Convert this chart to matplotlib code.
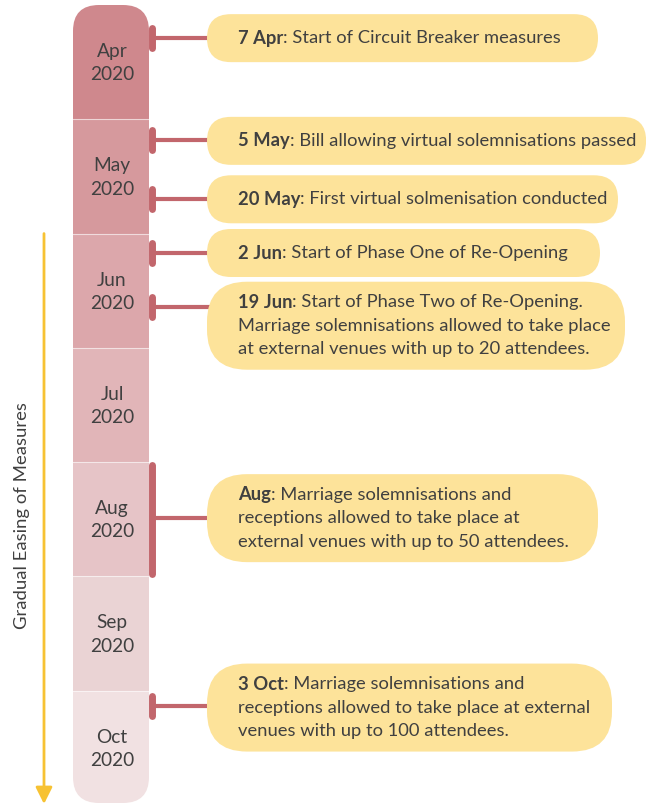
import matplotlib
matplotlib.use("Agg")
import matplotlib.pyplot as plt
from matplotlib.patches import FancyBboxPatch, Rectangle

# ======= Data =======
months = ["Apr", "May", "Jun", "Jul", "Aug", "Sep", "Oct"]
year = "2020"
month_colors = ["#cf888d", "#d6999d", "#dca7ab", "#e1b5b8", "#e6c4c7", "#ead3d4", "#f1e1e2"]

# position of each event on the timeline, in months from start of Apr
event_pos = [0.29, 1.18, 1.70, 2.17, 2.64, 4.49, 6.13]
event_bold = ["7 Apr", "5 May", "20 May", "2 Jun", "19 Jun", "Aug", "3 Oct"]
event_lines = [
    [": Start of Circuit Breaker measures"],
    [": Bill allowing virtual solemnisations passed"],
    [": First virtual solmenisation conducted"],
    [": Start of Phase One of Re-Opening"],
    [": Start of Phase Two of Re-Opening.",
     "Marriage solemnisations allowed to take place",
     "at external venues with up to 20 attendees."],
    [": Marriage solemnisations and",
     "receptions allowed to take place at",
     "external venues with up to 50 attendees."],
    [": Marriage solemnisations and",
     "receptions allowed to take place at external",
     "venues with up to 100 attendees."],
]
# Aug is a whole-month event (drawn as a bracket over the cell)
event_span = [None, None, None, None, None, (4.0, 5.0), None]

# ======= Layout =======
W, H = 646, 805
top, bottom = 5, 803
cell_h = (805 - 5) / len(months)
col_x0, col_x1 = 73, 149
tick_x = 152
box_x0 = 207
text_x = 238
line_gap = 23.5
box_right = [598, 641, 618, 600, 625, 598, 612]
box_shift = [0, 1, 0, 0, 19, 0, 2]

TEXT = "#404040"
CONN = "#c2666c"
BOX = "#fde39a"
ARROW = "#f7c233"
FONT = ["Lato", "DejaVu Sans"]
FS = 13.2


def month_y(m):
    return top + m * cell_h


fig = plt.figure(figsize=(W / 100, H / 100), dpi=100)
ax = fig.add_axes([0, 0, 1, 1])
ax.set_xlim(0, W)
ax.set_ylim(H, 0)
ax.axis("off")

# timeline column with rounded ends
clip = FancyBboxPatch((col_x0, top), col_x1 - col_x0, bottom - top,
                      boxstyle="round,pad=0,rounding_size=26",
                      facecolor="none", edgecolor="none")
ax.add_patch(clip)
for i, (m, c) in enumerate(zip(months, month_colors)):
    y0 = month_y(i)
    r = Rectangle((col_x0, y0), col_x1 - col_x0, cell_h, facecolor=c,
                  edgecolor="none", zorder=1)
    ax.add_patch(r)
    r.set_clip_path(clip)
    if i > 0:
        ax.plot([col_x0, col_x1], [y0, y0], color="white", lw=0.8, alpha=0.6, zorder=2)
    ax.text((col_x0 + col_x1) / 2 + 1, y0 + cell_h / 2 + 1, f"{m}\n{year}",
            ha="center", va="center", fontsize=13.8, color=TEXT,
            family=FONT, linespacing=1.45, zorder=3)

# gradual easing arrow
ax.annotate("", xy=(44, 804), xytext=(44, month_y(2)),
            arrowprops=dict(arrowstyle="-|>,head_length=1.0,head_width=0.5",
                            color=ARROW, lw=2, shrinkA=0, shrinkB=0))
ax.text(22, 516, "Gradual Easing of Measures", rotation=90, ha="center",
        va="center", fontsize=13.3, color=TEXT, family=FONT)

fig.canvas.draw()
renderer = fig.canvas.get_renderer()
inv = ax.transData.inverted()

for k, (pos, bold, lines) in enumerate(zip(event_pos, event_bold, event_lines)):
    y = month_y(pos)
    span = event_span[k]
    if span is not None:
        ya, yb = month_y(span[0]) + 3, month_y(span[1]) - 2
        ax.plot([tick_x, tick_x], [ya, yb], color=CONN, lw=5,
                solid_capstyle="round", zorder=4)
    else:
        ax.plot([tick_x, tick_x], [y - 10, y + 10], color=CONN, lw=5,
                solid_capstyle="round", zorder=4)
    ax.plot([tick_x, box_x0 + 5], [y, y], color=CONN, lw=3, zorder=4)

    n = len(lines)
    cy = y + box_shift[k]
    bh = 48 if n == 1 else 88
    first_y = cy - (n - 1) * line_gap / 2

    tb = ax.text(text_x, first_y, bold, ha="left", va="center", fontsize=FS,
                 fontweight="bold", color=TEXT, family=FONT, zorder=6)
    ext = tb.get_window_extent(renderer)
    bx = inv.transform((ext.x1, 0))[0]
    right = 0
    for j, ln in enumerate(lines):
        x = bx if j == 0 else text_x
        t = ax.text(x, first_y + j * line_gap, ln, ha="left", va="center",
                    fontsize=FS, color=TEXT, family=FONT, zorder=6)
        e = t.get_window_extent(renderer)
        right = max(right, inv.transform((e.x1, 0))[0])

    bx1 = max(box_right[k], right + 10)
    box = FancyBboxPatch((box_x0, cy - bh / 2), bx1 - box_x0, bh,
                         boxstyle=f"round,pad=0,rounding_size={min(bh / 2, 40)}",
                         facecolor=BOX, edgecolor="none", zorder=5)
    ax.add_patch(box)

fig.savefig("out.png", dpi=100)
